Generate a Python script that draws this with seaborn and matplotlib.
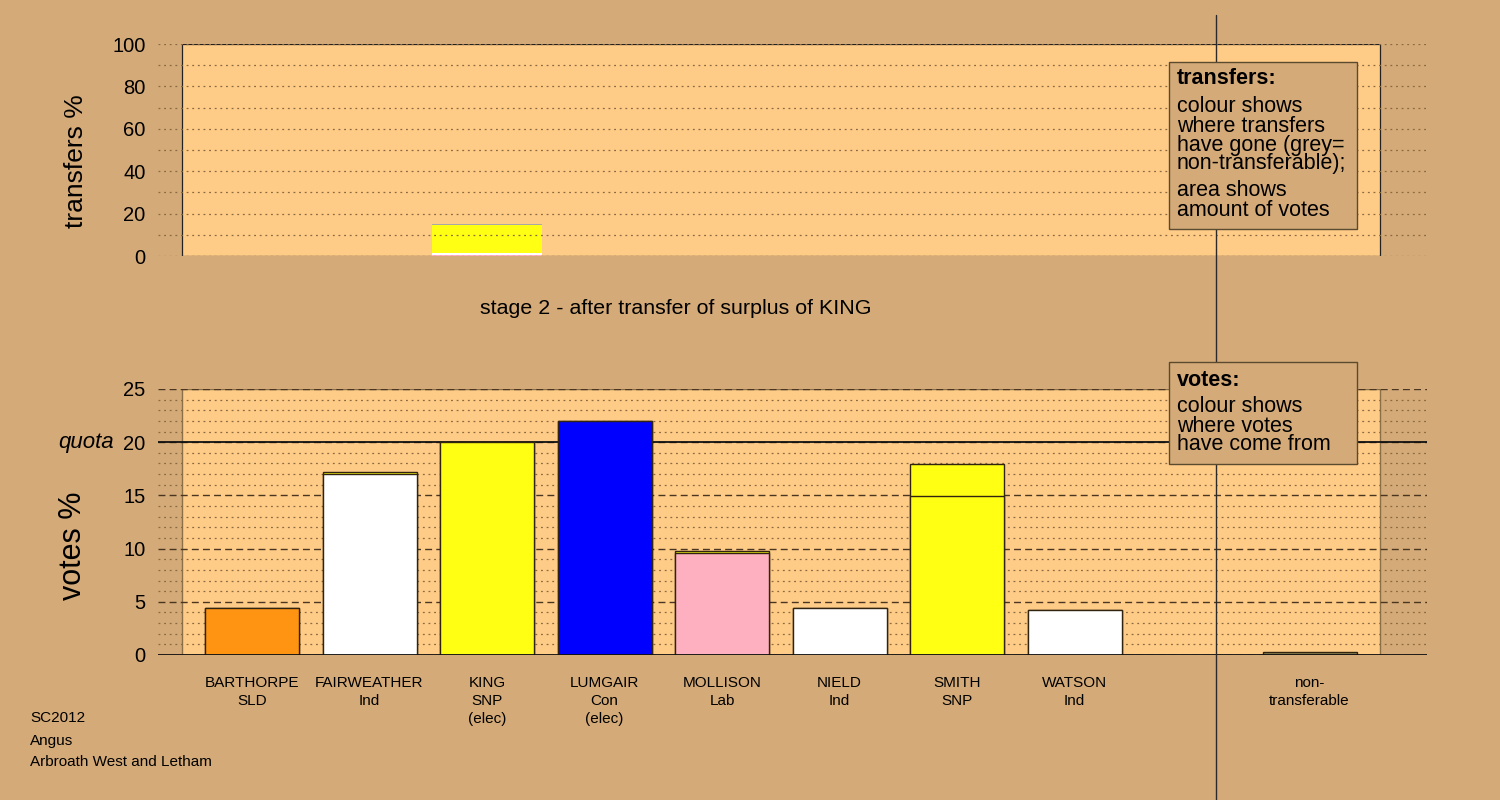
import numpy as np
import pandas as pd
import matplotlib
matplotlib.use("Agg")
import matplotlib.pyplot as plt
import seaborn as sns
from matplotlib.lines import Line2D
from matplotlib.patches import Rectangle
from matplotlib.ticker import MultipleLocator

# ---------------- data ----------------
candidates = ["BARTHORPE", "FAIRWEATHER", "KING", "LUMGAIR", "MOLLISON", "NIELD", "SMITH", "WATSON"]
parties = ["SLD", "Ind", "SNP", "Con", "Lab", "Ind", "SNP", "Ind"]
elected = ["", "", "(elec)", "(elec)", "", "", "", ""]
own_votes = [4.40, 17.05, 20.00, 21.96, 9.62, 4.40, 14.93, 4.20]
from_king = [0.06, 0.13, 0.00, 0.00, 0.15, 0.05, 3.02, 0.06]
own_colours = ["#FF9412", "#FFFFFF", "#FFFF14", "#0000FF", "#FFB0C0", "#FFFFFF", "#FFFF14", "#FFFFFF"]
king_colour = "#FFFF14"

nontransferable_label = "non-transferable"
nontransferable_votes = 0.25
nontransferable_colour = "#8C8050"

quota = 20

donor = "KING"
transfer_groups = ["other", "Ind", "SNP", "non-transferable"]
transfer_pct = [0.4, 0.8, 13.4, 0.5]
transfer_colours = ["#FFB0C0", "#FFFFFF", "#FFFF14", "#A8A8A8"]

stage_title = "stage 2 - after transfer of surplus of KING"
footer_lines = ["SC2012", "Angus", "Arbroath West and Letham"]
separator_pos = 8.2

# ---------------- style ----------------
BG = "#D4AA78"
PANEL = "#FFCC88"
EDGE = "#302410"
DOT = "#8a6a40"
DASH = "#4a3520"

sns.set_style("white")
plt.rcParams["font.family"] = ["Liberation Sans", "DejaVu Sans"]
for key in ["text.color", "axes.labelcolor", "xtick.color", "ytick.color"]:
    plt.rcParams[key] = "black"

gap = " "
order = candidates + [gap, nontransferable_label]

fig = plt.figure(figsize=(15, 8), dpi=100, facecolor=BG)
ax_t = fig.add_axes([158 / 1500, 1 - 256 / 800, 1269 / 1500, 212 / 800])
ax_b = fig.add_axes([158 / 1500, 1 - 655 / 800, 1269 / 1500, 266 / 800])
for ax in (ax_t, ax_b):
    ax.set_facecolor("none")
    for s in ax.spines.values():
        s.set_visible(False)

# ---------------- top chart: transfers ----------------
cum = np.cumsum(transfer_pct)
for i in reversed(range(len(transfer_pct))):
    sns.barplot(data=pd.DataFrame({"cand": [donor], "pct": [cum[i]]}), x="cand", y="pct",
                order=order, color=transfer_colours[i], saturation=1, width=0.94,
                linewidth=0, errorbar=None, ax=ax_t)
ax_t.set_xlim(-0.8, 10.0)
ax_t.set_ylim(0, 100)
ax_t.axvspan(-0.6, 9.6, facecolor=PANEL, edgecolor="#222222", linewidth=0.9, zorder=0.2)
ax_t.yaxis.set_major_locator(MultipleLocator(20))
ax_t.yaxis.set_minor_locator(MultipleLocator(10))
ax_t.set_axisbelow(False)
ax_t.grid(False, axis="x")
ax_t.grid(True, which="both", axis="y", color=DOT, linestyle=(0, (1.5, 3)), linewidth=0.9)
ax_t.tick_params(axis="y", which="both", length=0, labelsize=14.5, pad=9)
ax_t.tick_params(axis="x", which="both", length=0, labelbottom=False)
ax_t.set_xlabel("")
ax_t.set_ylabel("transfers %", fontsize=19)
ax_t.yaxis.set_label_coords(-0.055, 0.448)

# ---------------- bottom chart: votes ----------------
tot_df = pd.DataFrame({
    "cand": candidates + [nontransferable_label],
    "votes": [o + k for o, k in zip(own_votes, from_king)] + [nontransferable_votes],
})
tot_pal = {c: king_colour for c in candidates}
tot_pal[nontransferable_label] = nontransferable_colour
sns.barplot(data=tot_df, x="cand", y="votes", hue="cand", palette=tot_pal, order=order,
            hue_order=candidates + [nontransferable_label], dodge=False, saturation=1,
            width=0.8, edgecolor=EDGE, linewidth=1.0, errorbar=None, legend=False, ax=ax_b)
own_df = pd.DataFrame({"cand": candidates, "votes": own_votes})
own_pal = dict(zip(candidates, own_colours))
sns.barplot(data=own_df, x="cand", y="votes", hue="cand", palette=own_pal, order=order,
            hue_order=candidates, dodge=False, saturation=1,
            width=0.8, edgecolor=EDGE, linewidth=1.0, errorbar=None, legend=False, ax=ax_b)

ax_b.set_xlim(-0.8, 10.0)
ax_b.set_ylim(0, 25)
ax_b.axvspan(-0.6, 9.6, facecolor=PANEL, edgecolor="#8B6F47", linewidth=1.0, zorder=0.2)
ax_b.yaxis.set_major_locator(MultipleLocator(5))
ax_b.yaxis.set_minor_locator(MultipleLocator(1))
ax_b.set_axisbelow(True)
ax_b.grid(False, axis="x")
ax_b.grid(True, which="major", axis="y", color=DASH, linestyle=(0, (5, 3)), linewidth=1.0)
ax_b.grid(True, which="minor", axis="y", color=DOT, linestyle=(0, (1.5, 3)), linewidth=0.9)
ax_b.axhline(quota, color="#111111", linewidth=1.3, zorder=0.9)
ax_b.axhline(0, color="#111111", linewidth=1.3, zorder=3)
ax_b.tick_params(axis="y", which="both", length=0, labelsize=14.5, pad=9)

labels = []
for c, p, e in zip(candidates, parties, elected):
    labels.append("\n".join([c, p] + ([e] if e else [])))
labels += ["", "non-\ntransferable"]
ax_b.set_xticks(range(len(order)))
ax_b.set_xticklabels(labels, fontsize=11, linespacing=1.38, va="top")
ax_b.tick_params(axis="x", which="both", length=0, pad=15)
ax_b.set_xlabel("")
ax_b.set_ylabel("votes %", fontsize=22)
ax_b.yaxis.set_label_coords(-0.055, 0.41)
ax_b.annotate("quota", xy=(0, quota), xycoords=ax_b.get_yaxis_transform(),
              xytext=(-44, 0), textcoords="offset pixels", ha="right", va="center",
              fontsize=16, style="italic")

# ---------------- separator line ----------------
x_disp = ax_b.transData.transform((separator_pos, 0))[0]
x_fig = x_disp / fig.bbox.width
fig.add_artist(Line2D([x_fig, x_fig], [0, 1 - 15 / 800], transform=fig.transFigure,
                      color="#2a2a2a", linewidth=1.0, zorder=1))

# ---------------- legend boxes ----------------
def box(x0, y0, x1, y1):
    fig.add_artist(Rectangle((x0 / 1500, 1 - y1 / 800), (x1 - x0) / 1500, (y1 - y0) / 800,
                             transform=fig.transFigure, facecolor=BG, edgecolor="#5a4a30",
                             linewidth=1.0, zorder=3))

box(1169, 62, 1357, 229)
box(1169, 362, 1357, 464)

def ftext(x, y, s, **kw):
    fig.text(x / 1500, 1 - y / 800, s, va="center", ha="left", zorder=4, **kw)

ftext(1177, 78, "transfers:", fontsize=15.5, weight="bold")
for y, s in zip([106, 126, 145, 164, 191, 210],
                ["colour shows", "where transfers", "have gone (grey=", "non-transferable);",
                 "area shows", "amount of votes"]):
    ftext(1177, y, s, fontsize=15.5)
ftext(1177, 380, "votes:", fontsize=15.5, weight="bold")
for y, s in zip([407, 426, 445], ["colour shows", "where votes", "have come from"]):
    ftext(1177, y, s, fontsize=15.5)

# ---------------- titles / footer ----------------
fig.text(676 / 1500, 1 - 308 / 800, stage_title, ha="center", va="center", fontsize=15.4)
for y, s in zip([718, 741, 762], footer_lines):
    ftext(30, y, s, fontsize=11)

fig.savefig("out.png", dpi=100, facecolor=BG)
